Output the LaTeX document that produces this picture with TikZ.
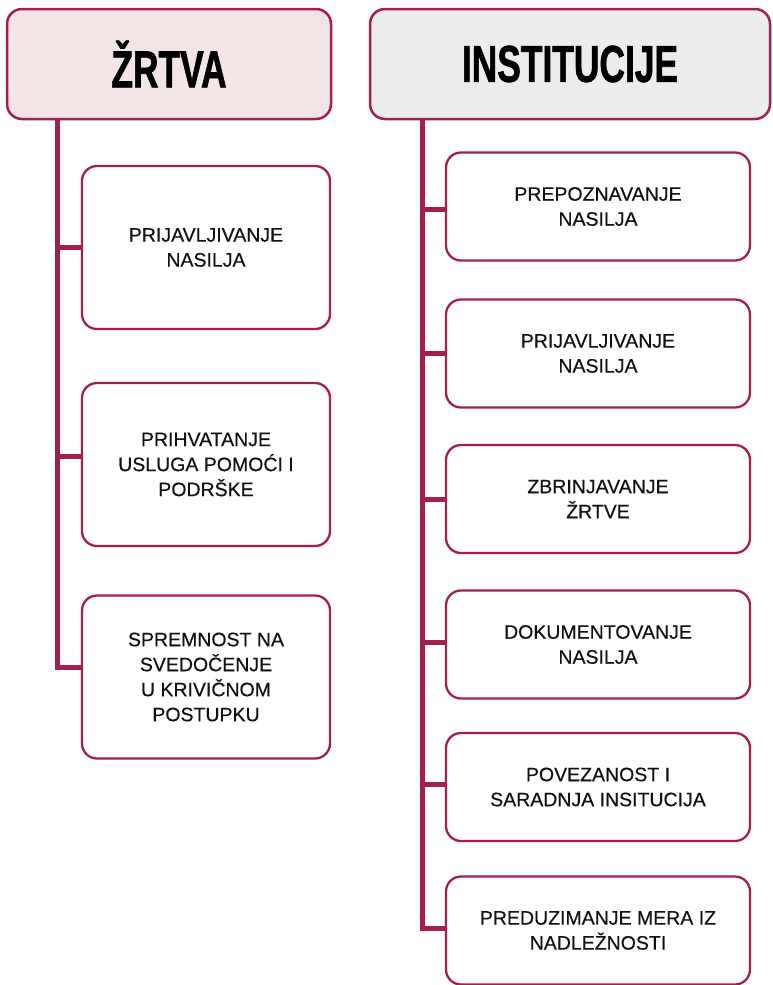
\documentclass[tikz,border=0pt]{standalone}
\usepackage{fontspec}
\setmainfont{Liberation Sans}[FakeBold=0.4]
\newfontfamily\titlefont[FakeStretch=0.68,FakeBold=1.2]{Liberation Sans}
\definecolor{crim}{RGB}{163,32,78}
\definecolor{pinkfill}{RGB}{243,229,230}
\definecolor{greyfill}{RGB}{236,236,236}
\definecolor{txt}{RGB}{17,17,17}
\begin{document}
\begin{tikzpicture}[x=1pt,y=-1pt,
  headbox/.style={draw=crim,line width=2.5pt,rounded corners=15pt,inner sep=0pt,
    font=\titlefont\bfseries\fontsize{52}{56}\selectfont,text=black},
  itembox/.style={draw=crim,line width=2.3pt,rounded corners=15pt,inner sep=0pt,fill=white,
    align=center,text=txt,font=\fontsize{19.5}{25}\selectfont},
  lbox/.style={itembox,minimum width=248pt,minimum height=163pt},
  rbox/.style={itembox,minimum width=304pt,minimum height=108pt},
  link/.style={draw=crim,line width=5pt,line join=miter}]
\useasboundingbox (0,0) rectangle (772,985);
% headers
\node[headbox,fill=pinkfill,minimum width=324pt,minimum height=110pt] (lh) at (169,64) {ŽRTVA};
\node[headbox,fill=greyfill,minimum width=400pt,minimum height=110pt] (rh) at (570,64) {INSTITUCIJE};
% left items
\node[lbox] (l1) at (206,247.5) {PRIJAVLJIVANJE\\NASILJA};
\node[lbox] (l2) at (206,464.5) {PRIHVATANJE\\USLUGA POMOĆI I\\PODRŠKE};
\node[lbox] (l3) at (206,677) {SPREMNOST NA\\SVEDOČENJE\\U KRIVIČNOM\\POSTUPKU};
% right items
\node[rbox] (r1) at (598,206.5) {PREPOZNAVANJE\\NASILJA};
\node[rbox] (r2) at (598,353.5) {PRIJAVLJIVANJE\\NASILJA};
\node[rbox] (r3) at (598,499) {ZBRINJAVANJE\\ŽRTVE};
\node[rbox] (r4) at (598,644.5) {DOKUMENTOVANJE\\NASILJA};
\node[rbox] (r5) at (598,787) {POVEZANOST I\\SARADNJA INSITUCIJA};
\node[rbox] (r6) at (598,930.5) {PREDUZIMANJE MERA IZ\\NADLEŽNOSTI};
% spine coordinates
\coordinate (lb1) at (57,247);
\coordinate (lb2) at (57,456);
\coordinate (lb3) at (57,667);
\coordinate (rb1) at (422,209);
\coordinate (rb2) at (422,353);
\coordinate (rb3) at (422,499);
\coordinate (rb4) at (422,642);
\coordinate (rb5) at (422,784);
\coordinate (rb6) at (422,928);
% left connectors
\path[link] (lb1 |- lh.south) -- (lb3) -- (lb3 -| l3.west);
\path[link] (lb1) -- (lb1 -| l1.west);
\path[link] (lb2) -- (lb2 -| l2.west);
% right connectors
\path[link] (rb1 |- rh.south) -- (rb6) -- (rb6 -| r6.west);
\path[link] (rb1) -- (rb1 -| r1.west);
\path[link] (rb2) -- (rb2 -| r2.west);
\path[link] (rb3) -- (rb3 -| r3.west);
\path[link] (rb4) -- (rb4 -| r4.west);
\path[link] (rb5) -- (rb5 -| r5.west);
\end{tikzpicture}
\end{document}
